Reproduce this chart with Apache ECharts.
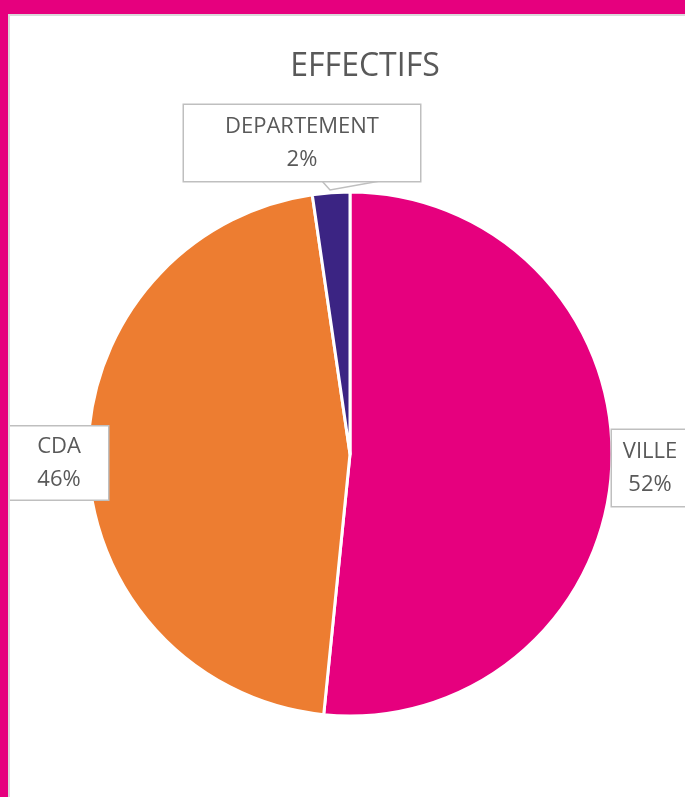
<!DOCTYPE html>
<html><head><meta charset="utf-8">
<script src="https://cdn.jsdelivr.net/npm/echarts@6/dist/echarts.min.js"></script>
<style>html,body{margin:0;padding:0;background:#fff;}#c{width:685px;height:797px;}</style>
</head><body><div id="c"></div>
<script>
const categories = ['VILLE', 'CDA', 'DEPARTEMENT'];
const values = [51.6, 46.1, 2.3];
const colors = ['#E6007E', '#ED7D31', '#3B2483'];
const title = 'EFFECTIFS';

const FONT = '"Open Sans", "Noto Sans", sans-serif';
const TXT = '#595959';
const boxes = [
  {cx: 650, cy: 468, w: 56, h: 66, line: false},
  {cx: 59, cy: 463, w: 78, h: 63, line: false},
  {cx: 302, cy: 143, w: 216, h: 66, line: true}
];

const chart = echarts.init(document.getElementById('c'), null, {renderer: 'canvas'});
chart.setOption({
  backgroundColor: '#fff',
  animation: false,
  title: {
    text: title, left: 360, top: 46, textAlign: 'center',
    textStyle: {fontFamily: FONT, fontSize: 32, fontWeight: 'normal', color: TXT}
  },
  graphic: [
    {type: 'rect', shape: {x: 0, y: 0, width: 685, height: 14}, style: {fill: '#E6007E'}, z: 10},
    {type: 'rect', shape: {x: 0, y: 0, width: 8, height: 797}, style: {fill: '#E6007E'}, z: 10},
    {type: 'polyline', shape: {points: [[9, 797], [9, 15], [685, 15]]}, style: {stroke: '#d9d9d9', lineWidth: 2, fill: null}, z: 9}
  ],
  series: [{
    type: 'pie',
    center: [350, 454],
    radius: [0, 262],
    startAngle: 90,
    clockwise: true,
    avoidLabelOverlap: false,
    itemStyle: {borderColor: '#fff', borderWidth: 3},
    label: {
      show: true,
      position: 'outside',
      formatter: p => p.name + '\n' + Math.round(p.percent) + '%',
      fontFamily: FONT, fontSize: 22, color: TXT,
      lineHeight: 33, align: 'center', verticalAlign: 'middle',
      backgroundColor: '#fff', borderColor: '#bfbfbf', borderWidth: 1.5,
      padding: [5, 10]
    },
    labelLine: {show: true, lineStyle: {color: '#bfbfbf', width: 1.5}, length: 5, length2: 5},
    labelLayout: function (params) {
      const b = boxes[params.dataIndex];
      const r = {x: b.cx, y: b.cy, align: 'center', verticalAlign: 'middle'};
      if (b.line) {
        r.labelLinePoints = [[322, 181], [330, 190], [380, 181]];
      }
      return r;
    },
    data: categories.map((c, i) => ({
      name: c, value: values[i],
      itemStyle: {color: colors[i]},
      label: {width: boxes[i].w, height: boxes[i].h},
      labelLine: {show: boxes[i].line}
    }))
  }]
});
</script></body></html>
